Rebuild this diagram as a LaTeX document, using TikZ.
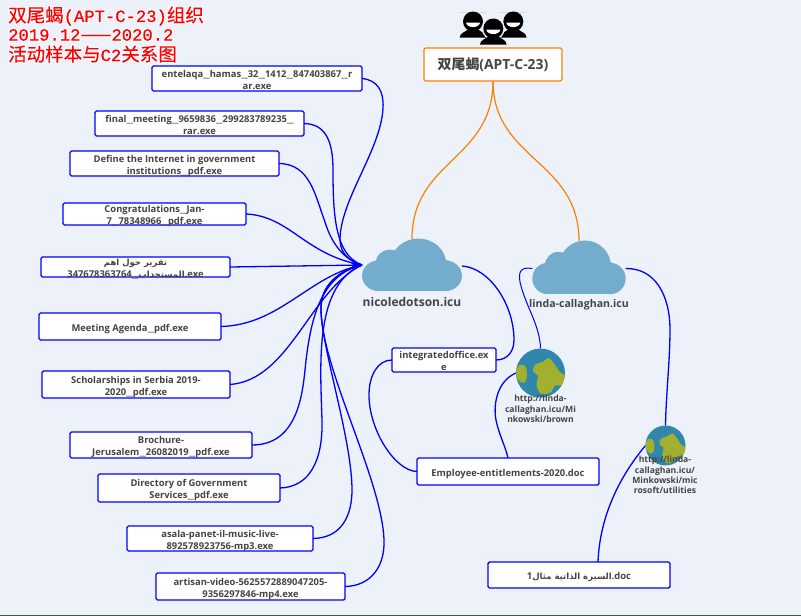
\documentclass[tikz,border=0pt]{standalone}
\usepackage{fontspec}
\usetikzlibrary{arrows.meta}
\setmainfont{Open Sans}[BoldFont={Open Sans Bold}]
\newfontfamily\cjkbold{Noto Sans CJK SC Bold}
\newfontfamily\arabicfont[Script=Arabic]{DejaVu Sans}
\newfontfamily\tcN[FakeBold=0.3]{Noto Sans CJK SC}
\newfontfamily\tmN[FakeBold=0.8]{Liberation Mono}
\newfontfamily\tcH[FakeBold=12]{Noto Sans CJK SC}
\newfontfamily\tmH[FakeBold=12]{Liberation Mono}
\TeXXeTstate=1
\definecolor{bgc}{HTML}{EDF2FA}
\definecolor{txt}{HTML}{444444}
\definecolor{lnk}{HTML}{0000FF}
\definecolor{org}{HTML}{FF8000}
\definecolor{cloudc}{HTML}{74ACCE}
\definecolor{sea}{HTML}{2F87AB}
\definecolor{land}{HTML}{A3B02F}
\newcommand\tcj[1]{{\tcx\fontsize{18.5}{20}\selectfont #1}}
\newcommand\tlat[1]{{\tmx\fontsize{17.2}{20}\selectfont #1}}
\newcommand\titleline[1]{\rlap{\color{white}\let\tcx\tcH\let\tmx\tmH #1}{\color{red}\let\tcx\tcN\let\tmx\tmN #1}}
\newcommand\ar[1]{{\arabicfont\fontsize{8.5}{10}\selectfont\beginR #1\endR}}
\newcommand\us{\scalebox{1.7}[1]{\_}}
\newcommand\bx[1]{\raisebox{-4.5pt}[0pt][0pt]{\renewcommand\arraystretch{1}\begin{tabular}[c]{@{}c@{}}#1\end{tabular}}}
\tikzset{
  filebox/.style={draw=lnk,fill=white,line width=1.4pt,rounded corners=1.5pt,inner sep=0pt,outer sep=0pt,
    text=txt,font=\fontsize{9.4}{11.8}\selectfont\bfseries},
  rootbox/.style={draw=org,fill=white,line width=1.4pt,rounded corners=1.5pt,inner sep=0pt,outer sep=0pt,
    minimum width=138pt,minimum height=33pt,text=txt,font=\fontsize{13.9}{15}\selectfont\bfseries},
  conn/.style={draw=lnk,line width=1.3pt},
  rootconn/.style={draw=org,line width=1.2pt},
  lbl/.style={text=txt,align=center,inner sep=0pt},
  glbl/.style={text=txt,align=center,inner sep=0pt,font=\fontsize{8.6}{10.4}\selectfont\bfseries},
  hold/.style={inner sep=0pt,outer sep=0pt},
  titletext/.style={anchor=west,inner sep=0pt},
  cloudpic/.pic={
    \fill[cloudc] (6,-1) circle (26) (-20.7,-2.3) circle (13.3) (-31,11) circle (15.7) (31,11) circle (15.7);
    \fill[cloudc] (-31,0) rectangle (31,26.7);
    \fill[cloudc] (-31,-4) -- (-25,-12) -- (25,-8) -- (34,-4.2) -- (31,5) -- cycle;
  },
  globepic/.pic={
    \fill[sea] (0,0) circle (1);
    \begin{scope}
      \clip (0,0) circle (1);
      \fill[land] plot[smooth cycle,tension=.6] coordinates {(-.99,-.1) (-.85,-.33) (-.62,-.27) (-.55,.04) (-.64,.38) (-.81,.36) (-.99,.18)};
      \fill[land] plot[smooth cycle,tension=.5] coordinates {(-.23,-.33) (.11,-.47) (.36,-.6) (.66,-.23) (.79,-.03) (1,.11) (.93,.49) (.59,.52) (.41,.79) (.04,.86) (-.16,.52) (-.1,.11) (-.3,-.05)};
    \end{scope}
  },
  personpic/.pic={
    \fill[black] (0,0) circle (10);
    \fill[black] (-13.3,16) .. controls (-13,11.5) and (-8,10.5) .. (-5,8) -- (5,8) .. controls (8,10.5) and (13,11.5) .. (13.3,16) -- cycle;
    \fill[white] (-7,1.2) -- (7,1.2) .. controls (6,7) and (-6,7) .. (-7,1.2) -- cycle;
  },
}
\begin{document}
\begin{tikzpicture}[x=1pt,y=-1pt]
\useasboundingbox (0,0) rectangle (801,616);
\fill[bgc] (0,0) rectangle (801,616);
\fill[black!70!green!60!gray] (0,615) rectangle (801,616);

% title
\node[titletext] (t1) at (8,16) {\titleline{\tcj{双尾蝎}\tlat{(APT-C-23)}\tcj{组织}}};
\node[titletext] (t2) at (8,35) {\titleline{\tlat{2019.12}\tcj{——}\tlat{2020.2}}};
\node[titletext] (t3) at (8,54) {\titleline{\tcj{活动样本与}\tlat{C2}\tcj{关系图}}};

% people
\draw[black!15,line width=.5pt] (460,12.5) -- (486,12.5) (500,12.5) -- (526,12.5);
\pic at (473,21.5) {personpic};
\pic at (513.3,21.5) {personpic};
\fill[bgc] (493.3,28.5) circle (11.5);
\pic at (493.3,28.5) {personpic};

% nodes
\node[rootbox] (root) at (493,64.5) {{\cjkbold 双尾蝎}(APT-C-23)};
\node[hold,minimum width=100pt,minimum height=52pt] (c1) at (412,265) {};
\node[hold,minimum width=93.4pt,minimum height=53pt] (c2) at (579,267.5) {};
\node[hold,circle,minimum size=49pt] (g1) at (540.5,373) {};
\node[hold,circle,minimum size=40pt] (g2) at (665.5,445.5) {};

\node[filebox,minimum width=210pt,minimum height=25pt] (n1) at (257,78.5) {\bx{entelaqa\us hamas\us 32\us 1412\us 847403867\us r\\ar.exe}};
\node[filebox,minimum width=209pt,minimum height=25pt] (n2) at (199.5,123.5) {\bx{final\us meeting\us 9659836\us 299283789235\us \\rar.exe}};
\node[filebox,minimum width=209pt,minimum height=25pt] (n3) at (174.5,163.5) {\bx{Define the Internet in government\\institutions\us pdf.exe}};
\node[filebox,minimum width=183pt,minimum height=22pt] (n4) at (154.5,214) {\bx{Congratulations\us Jan-\\7\us 78348966\us pdf.exe}};
\node[filebox,minimum width=189pt,minimum height=20pt] (n5) at (135.5,267) {\bx{\ar{تقرير حول اهم}\\347678363764\us \ar{المستجداب}.exe}};
\node[filebox,minimum width=182pt,minimum height=27pt] (n6) at (130,326.5) {\bx{Meeting Agenda\us pdf.exe}};
\node[filebox,minimum width=188pt,minimum height=27pt] (n7) at (136,384.5) {\bx{Scholarships in Serbia 2019-\\2020\us pdf.exe}};
\node[filebox,minimum width=182pt,minimum height=26pt] (n8) at (161,445) {\bx{Brochure-\\Jerusalem\us 26082019\us pdf.exe}};
\node[filebox,minimum width=182pt,minimum height=28pt] (n9) at (189,488) {\bx{Directory of Government\\Services\us pdf.exe}};
\node[filebox,minimum width=186pt,minimum height=25pt] (n10) at (220,538.5) {\bx{asala-panet-il-music-live-\\892578923756-mp3.exe}};
\node[filebox,minimum width=189pt,minimum height=27pt] (n11) at (250.5,586.5) {\bx{artisan-video-5625572889047205-\\9356297846-mp4.exe}};
\node[filebox,minimum width=104pt,minimum height=24pt] (m1) at (444,360) {\bx{integratedoffice.ex\\e}};
\node[filebox,minimum width=182pt,minimum height=27pt] (m2) at (508,471.5) {\bx{Employee-entitlements-2020.doc}};
\node[filebox,minimum width=182pt,minimum height=26pt] (m3) at (579,575) {\bx{1\ar{السيرة الذاتية مثال}.doc}};

% connectors
\draw[rootconn] (root.south) .. controls (493,160) and (412,160) .. (c1.north);
\draw[rootconn] (root.south) .. controls (493,160) and (579,160) .. (c2.north);

\draw[conn] (n1.east) .. controls (378,80) and (384,92) .. (383,108) .. controls (381,150) and (340,200) .. (340,240) .. controls (340,253) and (350,262) .. (c1.west);
\draw[conn] (n2.east) .. controls (325,124) and (333,140) .. (333,170) .. controls (333,215) and (335,255) .. (c1.west);
\draw[conn] (n3.east) .. controls (310,164) and (315,195) .. (325,222) .. controls (332,245) and (345,260) .. (c1.west);
\draw[conn] (n4.east) .. controls (290,216) and (305,255) .. (c1.west);
\draw[conn,-{Stealth[length=12pt,width=6pt]}] (n5.east) -- (c1.west);
\draw[conn] (n6.east) .. controls (280,325) and (310,275) .. (c1.west);
\draw[conn] (n7.east) .. controls (290,380) and (310,290) .. (c1.west);
\draw[conn] (n8.east) .. controls (295,445) and (302,400) .. (305,370) .. controls (310,320) and (320,275) .. (c1.west);
\draw[conn] (n9.east) .. controls (310,487) and (323,460) .. (322,420) .. controls (320,360) and (315,285) .. (c1.west);
\draw[conn] (n10.east) .. controls (342,538) and (352,515) .. (352,490) .. controls (352,440) and (322,350) .. (321,310) .. controls (320,285) and (340,270) .. (c1.west);
\draw[conn] (n11.east) .. controls (372,586) and (385,565) .. (384,540) .. controls (382,480) and (322,370) .. (321,310) .. controls (320,285) and (340,270) .. (c1.west);

\draw[conn] ([yshift=-1pt]c1.east) .. controls (490,268) and (514,305) .. (514,340) .. controls (514,352) and (507,360) .. (m1.east);
\draw[conn] (m1.west) .. controls (378,360) and (369,375) .. (369,395) .. controls (369,430) and (395,471) .. (m2.west);
\draw[conn,line width=1pt] ([yshift=-1pt]c2.west) .. controls (522,267) and (518,270) .. (520,282) .. controls (525,305) and (540,325) .. (g1.north);
\draw[conn] (g1.west) .. controls (497,381) and (493,405) .. (496,420) .. controls (499,435) and (505,445) .. (m2.north);
\draw[conn] ([yshift=-1pt]c2.east) .. controls (655,268) and (670,295) .. (670,330) .. controls (670,360) and (666,395) .. (g2.north);
\draw[conn] (g2.west) .. controls (625,470) and (600,510) .. ([xshift=19pt]m3.north);

% icons
\pic[xscale=1.07,yscale=.98] at (c1) {cloudpic};
\pic at (c2) {cloudpic};
\pic[scale=24.5] at (g1) {globepic};
\pic[scale=20] at (g2) {globepic};

% labels
\node[lbl,font=\fontsize{12}{14}\selectfont\bfseries] (l1) at (412,302) {nicoledotson.icu};
\node[lbl,font=\fontsize{10.6}{13}\selectfont\bfseries] (l2) at (579,305) {linda-callaghan.icu};
\node[glbl] (l3) at (540.5,409) {http://linda-\\callaghan.icu/Mi\\nkowski/brown};
\node[glbl] (l4) at (665,475) {http://linda-\\callaghan.icu/\\Minkowski/mic\\rosoft/utilities};
\end{tikzpicture}
\end{document}
